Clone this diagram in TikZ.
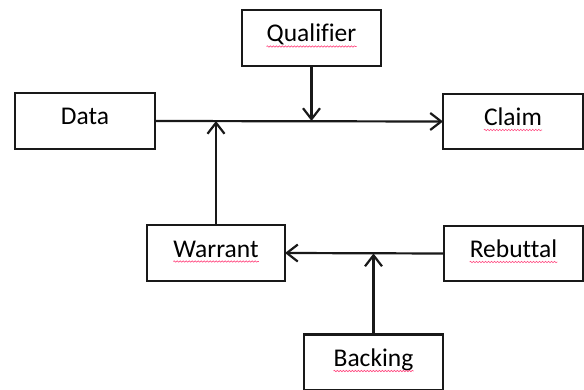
\documentclass[tikz,border=0pt]{standalone}
\usepackage{fontspec}
\setmainfont[Ligatures=NoCommon]{Carlito}
\usetikzlibrary{arrows.meta,decorations.pathmorphing}
\begin{document}
\begin{tikzpicture}[x=1pt,y=1pt,
  box/.style={draw=black!90, line width=2.2pt, minimum width=139pt, minimum height=56pt, inner sep=0pt, outer sep=0pt},
  lbl/.style={font=\fontsize{25.5pt}{29pt}\selectfont, text=black, inner sep=0pt, anchor=base},
  conn/.style={draw=black!90, line width=2.2pt},
  arr/.style={conn, -{Straight Barb[length=11pt,width=17pt,line width=2.2pt]}},
  squig/.style={draw=red!70!magenta!70, line width=0.6pt, decorate, decoration={snake, amplitude=0.7pt, segment length=3pt}}
]
\useasboundingbox (0,0) rectangle (584,389);
\fill[white] (0,0) rectangle (584,389);

\node[box, minimum width=140pt] (d) at (85,268) {};
\node[box] (q) at (311.5,351) {};
\node[box, minimum width=140pt, minimum height=55pt] (c) at (513,267.5) {};
\node[box, minimum width=138pt] (w) at (216,136) {};
\node[box, minimum height=55pt] (r) at (513.5,135.5) {};
\node[box] (b) at (373.5,26.5) {};

\node[lbl] (dl) at ([yshift=-4pt]d.center) {Data};
\node[lbl] (ql) at ([yshift=-4pt]q.center) {Qualifier};
\node[lbl] (cl) at ([yshift=-4pt]c.center) {Claim};
\node[lbl] (wl) at ([yshift=-4pt]w.center) {Warrant};
\node[lbl] (rl) at ([yshift=-4pt]r.center) {Rebuttal};
\node[lbl] (bl) at ([yshift=-4pt]b.center) {Backing};

\foreach \n in {ql,cl,wl,rl,bl}{
  \draw[squig] ([yshift=-4.5pt]\n.base west) -- ([yshift=-4.5pt]\n.base east);
}

\draw[arr] (d.east) -- (c.west);
\draw[arr] (q.south) -- (q.south |- d.east);
\draw[arr] (w.north) -- (w.north |- d.east);
\draw[arr] (r.west) -- (w.east);
\draw[arr] (b.north) -- (b.north |- r.west);
\end{tikzpicture}
\end{document}
